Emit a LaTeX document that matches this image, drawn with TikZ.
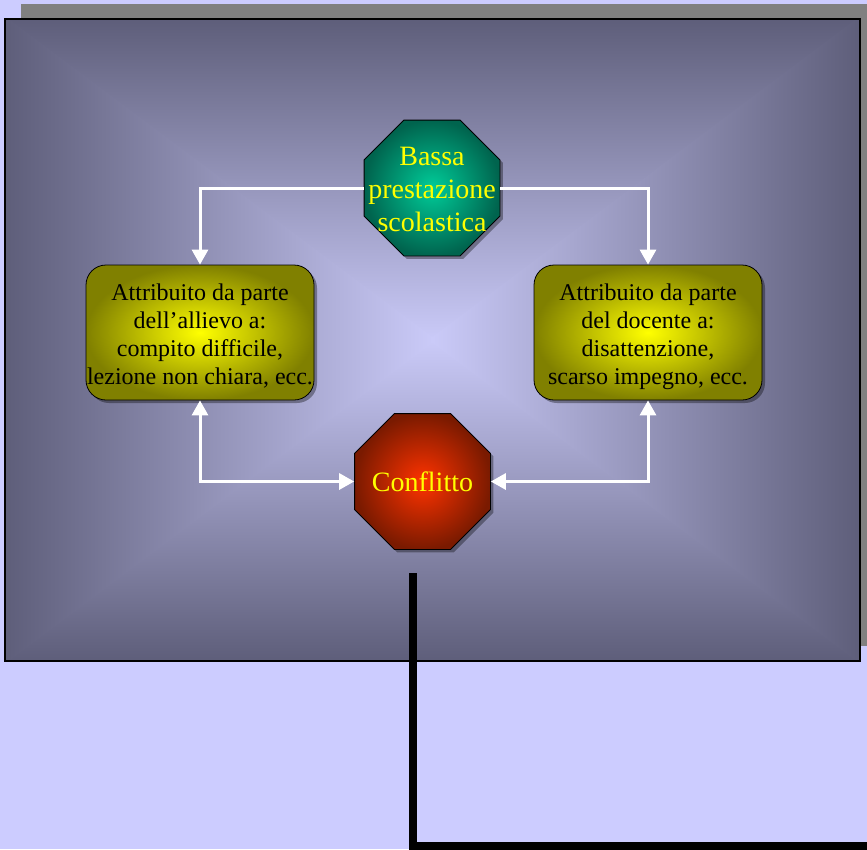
\documentclass[tikz,border=0pt]{standalone}
\usepackage{fontspec}
\setmainfont{Liberation Serif}
\usetikzlibrary{shapes.geometric,arrows.meta,shadows}

\definecolor{pagebg}{RGB}{204,204,255}
\definecolor{panelshadow}{RGB}{128,128,128}
\definecolor{paneledge}{RGB}{94,94,122}
\definecolor{panelmid}{RGB}{202,202,248}
\definecolor{greenin}{RGB}{0,204,153}
\definecolor{greenout}{RGB}{0,100,78}
\definecolor{redin}{RGB}{255,51,0}
\definecolor{redout}{RGB}{122,26,0}
\definecolor{olivein}{RGB}{255,255,0}
\definecolor{oliveout}{RGB}{128,128,0}
\definecolor{labelyellow}{RGB}{255,255,0}

\tikzset{
  octa/.style={regular polygon, regular polygon sides=8, minimum size=147pt,
    inner sep=0pt, draw=black, line width=0.8pt,
    drop shadow={shadow xshift=3pt, shadow yshift=-3pt, fill=black, opacity=0.35}},
  octatext/.style={text=labelyellow, align=center, inner sep=0pt,
    font=\fontsize{28}{33}\selectfont},
  causebox/.style={rectangle, rounded corners=20pt, minimum width=228pt,
    minimum height=135pt, inner sep=0pt, draw=black, line width=0.8pt,
    shading=radial, inner color=olivein, outer color=oliveout,
    drop shadow={shadow xshift=3pt, shadow yshift=-3pt, fill=black, opacity=0.35}},
  boxtext/.style={align=center, inner sep=0pt, text=black,
    font=\fontsize{24}{28}\selectfont},
  flow/.style={draw=white, line width=3pt, line join=miter},
  tip/.style={-{Triangle[length=15pt,width=16pt]}},
  bothtips/.style={{Triangle[length=15pt,width=16pt]}-{Triangle[length=15pt,width=16pt]}},
  leader/.style={draw=black, line width=8pt, line join=miter}
}

\begin{document}
\begin{tikzpicture}[x=1pt, y=-1pt]
  \useasboundingbox (0,0) rectangle (867,849);
  \fill[pagebg] (0,0) rectangle (867,849);

  % panel shadow and panel with rectangular gradient
  \fill[panelshadow] (21,4) rectangle (880,646);
  \fill[paneledge] (5,19) rectangle (860,661);
  \begin{scope}
    \clip (5,19) -- (860,19) -- (432.5,340) -- cycle;
    \shade[top color=paneledge, bottom color=panelmid] (5,19) rectangle (860,340);
  \end{scope}
  \begin{scope}
    \clip (5,661) -- (860,661) -- (432.5,340) -- cycle;
    \shade[bottom color=paneledge, top color=panelmid] (5,340) rectangle (860,661);
  \end{scope}
  % side wedges overlap the diagonals slightly so no seam shows
  \begin{scope}
    \clip (5,16) -- (5,664) -- (436.5,340) -- cycle;
    \shade[left color=paneledge, right color=panelmid] (5,19) rectangle (432.5,661);
  \end{scope}
  \begin{scope}
    \clip (860,16) -- (860,664) -- (428.5,340) -- cycle;
    \shade[right color=paneledge, left color=panelmid] (432.5,19) rectangle (860,661);
  \end{scope}
  \draw[black, line width=2pt] (5,19) rectangle (860,661);

  % nodes
  \node[octa, shading=radial, inner color=greenin, outer color=greenout]
    (bassa) at (432,188) {};
  \node[octatext] (bassatext) at ([yshift=-1pt]bassa.center) {Bassa\\prestazione\\scolastica};

  \node[octa, shading=radial, inner color=redin, outer color=redout]
    (confl) at (422.5,481.5) {};
  \node[octatext] (confltext) at (confl.center) {Conflitto};

  \node[causebox] (allievo) at (200,332.5) {};
  \node[boxtext] (allievotext) at ([yshift=-4pt]allievo.center)
    {Attribuito da parte\\dell’allievo a:\\compito difficile,\\lezione non chiara, ecc.};
  \node[causebox] (docente) at (648,332.5) {};
  \node[boxtext] (docentetext) at ([yshift=-4pt]docente.center)
    {Attribuito da parte\\del docente a:\\disattenzione,\\scarso impegno, ecc.};

  % connectors
  \draw[flow, tip] (bassa.west) -| (allievo.north);
  \draw[flow, tip] (bassa.east) -| (docente.north);
  \draw[flow, bothtips] (allievo.south) |- (confl.west);
  \draw[flow, bothtips] (docente.south) |- (confl.east);

  % black leader line
  \coordinate (leadtop) at (413,573);
  \coordinate (leadcorner) at (413,845.5);
  \coordinate (leadend) at (880,845.5);
  \draw[leader] (leadtop) -- (leadcorner) -- (leadend);
\end{tikzpicture}
\end{document}
